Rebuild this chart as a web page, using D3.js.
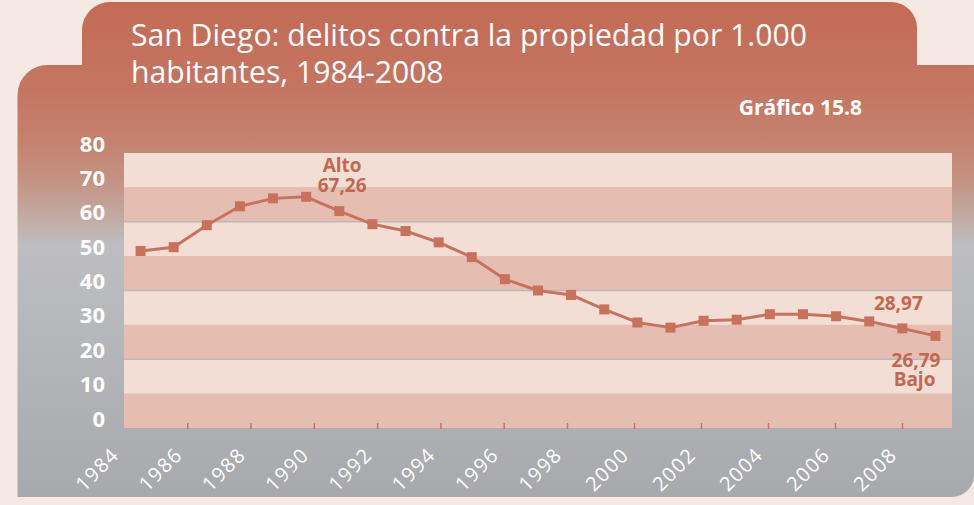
<!DOCTYPE html>
<html>
<head>
<meta charset="utf-8">
<script src="https://cdn.jsdelivr.net/npm/d3@7"></script>
<style>
  html, body { margin: 0; padding: 0; background: #f5e9e4; }
  svg { display: block; }
  text { font-family: "Open Sans", "DejaVu Sans", sans-serif; }
</style>
</head>
<body>
<svg id="chart" width="974" height="505"></svg>
<script>
// Property crimes per 1,000 inhabitants, San Diego
const years = [1984, 1985, 1986, 1987, 1988, 1989, 1990, 1991, 1992, 1993, 1994, 1995, 1996,
               1997, 1998, 1999, 2000, 2001, 2002, 2003, 2004, 2005, 2006, 2007, 2008];
const rates = [51.5, 52.6, 59.0, 64.5, 66.8, 67.26, 63.1, 59.3, 57.3, 54.0, 49.7, 43.3, 40.0,
               38.7, 34.5, 30.7, 29.2, 31.2, 31.5, 33.1, 33.1, 32.5, 31.0, 28.97, 26.79];
const yTicks = [0, 10, 20, 30, 40, 50, 60, 70, 80];
const xTickLabels = ["1984", "1986", "1988", "1990", "1992", "1994", "1996",
                     "1998", "2000", "2002", "2004", "2006", "2008"];
const gridValues = [20, 40, 60];
const titleLines = ["San Diego: delitos contra la propiedad por 1.000", "habitantes, 1984-2008"];
const chartNumber = "Gráfico 15.8";

const W = 974, H = 505;
const plot = { left: 124, right: 952, top: 153, bottom: 428 };
const accent = "#c8725e";

const svg = d3.select("#chart");
const defs = svg.append("defs");

// Terracotta-to-grey background gradient
const grad = defs.append("linearGradient")
  .attr("id", "bg").attr("gradientUnits", "userSpaceOnUse")
  .attr("x1", 0).attr("y1", 0).attr("x2", 0).attr("y2", H);
[[0, "#c36a55"], [90, "#c47662"], [140, "#c4826f"], [175, "#c49080"],
 [200, "#c39f93"], [225, "#c1b0aa"], [245, "#bdbdc1"], [300, "#b9babe"],
 [400, "#b0b1b5"], [497, "#a8a9ad"]].forEach(([y, c]) =>
  grad.append("stop").attr("offset", (y / H)).attr("stop-color", c));

// Card with the title tab on top
function roundedPath(x0, y0, x1, y1, rTL, rTR, rBR, rBL) {
  const p = d3.path();
  p.moveTo(x0 + rTL, y0);
  p.lineTo(x1 - rTR, y0);
  if (rTR) p.arcTo(x1, y0, x1, y0 + rTR, rTR);
  p.lineTo(x1, y1 - rBR);
  if (rBR) p.arcTo(x1, y1, x1 - rBR, y1, rBR);
  p.lineTo(x0 + rBL, y1);
  if (rBL) p.arcTo(x0, y1, x0, y1 - rBL, rBL);
  p.lineTo(x0, y0 + rTL);
  if (rTL) p.arcTo(x0, y0, x0 + rTL, y0, rTL);
  p.closePath();
  return p.toString();
}
svg.append("path").attr("d", roundedPath(82, 2, 917, 80, 28, 26, 0, 0)).attr("fill", "url(#bg)");
svg.append("path").attr("d", roundedPath(17.5, 65, 974, 497, 30, 0, 22, 0)).attr("fill", "url(#bg)");

// Title (condensed to its line width)
const title = svg.append("g").attr("transform", "translate(131,0)");
const tl = title.selectAll("text").data(titleLines).join("text")
  .attr("y", (d, i) => 46 + i * 37)
  .attr("fill", "#ffffff")
  .attr("font-size", 31)
  .attr("font-weight", 400)
  .text(d => d);
const measured = tl.nodes()[0].getComputedTextLength();
const squeeze = 676 / measured;
tl.attr("transform", `scale(${squeeze},1)`);

svg.append("text")
  .attr("x", 862).attr("y", 115)
  .attr("text-anchor", "end")
  .attr("fill", "#ffffff")
  .attr("font-size", 21).attr("font-weight", 700)
  .text(chartNumber);

// Scales
const x = d3.scalePoint().domain(years).range([plot.left, plot.right]).padding(0.5);
const y = d3.scaleLinear().domain([0, 80]).range([plot.bottom, plot.top]);
const xLabel = d3.scaleLinear().domain([1984, 1998, 2008])
  .range([plot.left, plot.left + 443, plot.left + 778]);

// Alternating bands
const bands = d3.pairs(yTicks);
svg.append("g").selectAll("rect").data(bands).join("rect")
  .attr("x", plot.left).attr("width", plot.right - plot.left)
  .attr("y", d => y(d[1])).attr("height", d => y(d[0]) - y(d[1]))
  .attr("fill", (d, i) => i % 2 === 0 ? "#e6beb1" : "#f2ded5");

// Grid lines
svg.append("g").selectAll("line").data(gridValues).join("line")
  .attr("x1", plot.left).attr("x2", plot.right)
  .attr("y1", d => y(d)).attr("y2", d => y(d))
  .attr("stroke", "#b9b8bb").attr("stroke-width", 1.5);

// Y axis labels, sitting just above each value line
const yAxis = svg.append("g")
  .attr("transform", `translate(105,0)`)
  .call(d3.axisLeft(y).tickValues(yTicks).tickSize(0).tickPadding(0));
yAxis.select(".domain").remove();
yAxis.selectAll(".tick").attr("transform", d => `translate(0,${y(d) - 1.5})`);
yAxis.selectAll("text")
  .attr("fill", "#ffffff")
  .attr("font-size", 22).attr("font-weight", 700)
  .attr("x", 0).attr("dy", 0)
  .style("font-family", "'Open Sans', sans-serif");

// X axis: small ticks inside the plot, rotated year labels below
const xVals = xTickLabels.map(Number);
const xAxis = svg.append("g").attr("transform", `translate(0,${plot.bottom})`)
  .call(d3.axisBottom(xLabel).tickValues(xVals).tickFormat(d => String(d)).tickSize(0));
xAxis.select(".domain").remove();
xAxis.selectAll(".tick").filter(d => d !== 1984).append("line")
  .attr("y1", -5).attr("y2", 1)
  .attr("stroke", accent).attr("stroke-width", 1.5);
xAxis.selectAll("text")
  .attr("fill", "#ffffff")
  .attr("font-size", 20).attr("font-weight", 400)
  .attr("letter-spacing", 1.5)
  .attr("text-anchor", "end")
  .attr("y", 0).attr("dy", 0)
  .attr("transform", "translate(-4,28) rotate(-45)")
  .style("font-family", "'Open Sans', sans-serif");

// Series line and square markers
const pts = years.map((yr, i) => ({ yr, v: rates[i] }));
svg.append("path").datum(pts)
  .attr("fill", "none").attr("stroke", accent).attr("stroke-width", 3)
  .attr("stroke-linejoin", "round")
  .attr("d", d3.line().x(d => x(d.yr)).y(d => y(d.v)));
svg.append("g").selectAll("rect").data(pts).join("rect")
  .attr("x", d => x(d.yr) - 5).attr("y", d => y(d.v) - 5)
  .attr("width", 10).attr("height", 10)
  .attr("fill", accent);

// Annotations
const fmt = v => d3.format(".2f")(v).replace(".", ",");
const maxPt = pts[d3.maxIndex(pts, d => d.v)];
const minPt = pts[d3.minIndex(pts, d => d.v)];
const prevPt = pts[pts.length - 2];
const ann = svg.append("g").attr("fill", "#c4674f").attr("font-size", 19).attr("font-weight", 700);
ann.append("text").attr("x", x(maxPt.yr) + 36).attr("y", y(maxPt.v) - 25)
  .attr("text-anchor", "middle").text("Alto");
ann.append("text").attr("x", x(maxPt.yr) + 36).attr("y", y(maxPt.v) - 5)
  .attr("text-anchor", "middle").text(fmt(maxPt.v));
ann.append("text").attr("x", x(prevPt.yr) - 4).attr("y", y(prevPt.v) - 18)
  .attr("text-anchor", "middle").text(fmt(prevPt.v));
ann.append("text").attr("x", x(minPt.yr) + 5).attr("y", y(minPt.v) + 31)
  .attr("text-anchor", "end").text(fmt(minPt.v));
ann.append("text").attr("x", x(minPt.yr)).attr("y", y(minPt.v) + 50)
  .attr("text-anchor", "end").text("Bajo");
</script>
</body>
</html>
